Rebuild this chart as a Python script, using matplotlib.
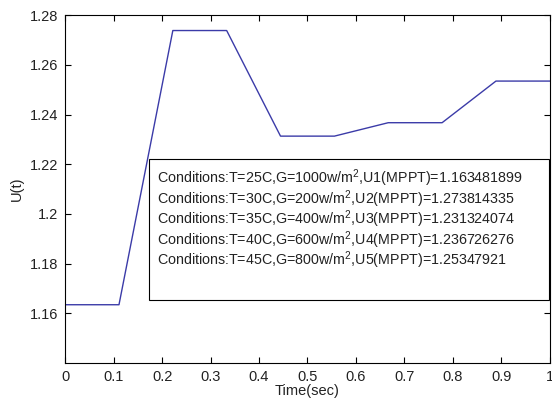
import matplotlib
matplotlib.use('Agg')
import matplotlib.pyplot as plt
from matplotlib.patches import Rectangle

plt.rcParams['font.family'] = ['Liberation Sans', 'DejaVu Sans']
plt.rcParams['mathtext.default'] = 'regular'

# Time points and MPPT voltage
time_sec = [0, 0.1111, 0.2222, 0.3333, 0.4444, 0.5556, 0.6667, 0.7778, 0.8889, 1.0]
u_mppt = [1.163481899, 1.163481899, 1.273814335, 1.273814335, 1.231324074,
          1.231324074, 1.236726276, 1.236726276, 1.25347921, 1.25347921]

temps = [25, 30, 35, 40, 45]
irradiance = [1000, 200, 400, 600, 800]
u_values = ['1.163481899', '1.273814335', '1.231324074', '1.236726276', '1.25347921']

x_ticks = [0, 0.1, 0.2, 0.3, 0.4, 0.5, 0.6, 0.7, 0.8, 0.9, 1]
x_labels = ['0', '0.1', '0.2', '0.3', '0.4', '0.5', '0.6', '0.7', '0.8', '0.9', '1']
y_ticks = [1.16, 1.18, 1.2, 1.22, 1.24, 1.26, 1.28]
y_labels = ['1.16', '1.18', '1.2', '1.22', '1.24', '1.26', '1.28']

fig = plt.figure(figsize=(5.52, 3.99), dpi=100)
ax = fig.add_axes([0.118, 0.09, 0.878, 0.872])

ax.plot(time_sec, u_mppt, color='#3b3ba8', linewidth=1.0)
ax.set_xlim(0, 1)
ax.set_ylim(1.14, 1.28)
ax.set_xticks(x_ticks)
ax.set_xticklabels(x_labels)
ax.set_yticks(y_ticks)
ax.set_yticklabels(y_labels)
ax.tick_params(direction='in', length=4, width=0.8, top=True, right=True,
               labelsize=10.5, pad=5, labelcolor='#222222')
for s in ax.spines.values():
    s.set_linewidth(0.8)
ax.set_xlabel('Time(sec)', fontsize=10.5, labelpad=0, color='#222222')
ax.set_ylabel('U(t)', fontsize=10.5, labelpad=4, color='#222222')

# Conditions box
ax.add_patch(Rectangle((0.174, 1.1653), 0.824, 0.0568, facecolor='white',
                       edgecolor='black', linewidth=0.8, zorder=3))
for i in range(len(temps)):
    label = 'Conditions:T=%dC,G=%dw/m$^2$,U%d(MPPT)=%s' % (
        temps[i], irradiance[i], i + 1, u_values[i])
    ax.text(0.19, 1.2143 - i * 0.00825, label, fontsize=10.3, color='#222222',
            va='center', ha='left', zorder=4)

fig.savefig('out.png', dpi=100)
